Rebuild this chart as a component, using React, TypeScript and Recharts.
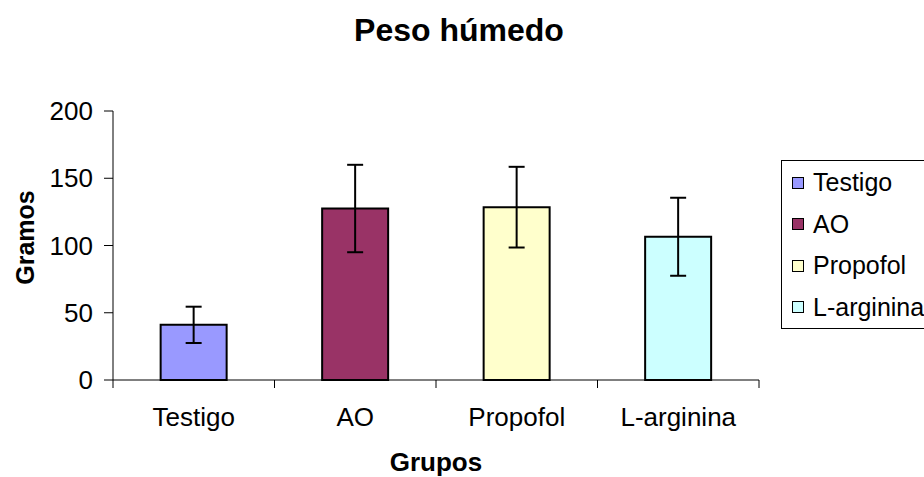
import React from 'react';
import { BarChart, Bar, Cell, XAxis, YAxis, ErrorBar, Legend, Label } from 'recharts';

const categories = ['Testigo', 'AO', 'Propofol', 'L-arginina'];
const pesoValues = [41, 127.5, 128.5, 106.5];
const errorValues = [13.5, 32.5, 30, 29];
const barColors = ['#9999FF', '#993366', '#FFFFCC', '#CCFFFF'];
const yTicks = [0, 50, 100, 150, 200];

const data = categories.map((name, i) => ({ name, peso: pesoValues[i], err: errorValues[i] }));

const FONT = '"Liberation Sans", Arial, sans-serif';
const WIDTH = 924;
const HEIGHT = 477;
const MARGIN = { top: 111, right: 165, bottom: 0, left: 10 };
const Y_AXIS_WIDTH = 103;
const X_AXIS_HEIGHT = 97;
// width of one category band, used to put tick marks between groups (Excel style)
const BAND = (WIDTH - MARGIN.left - Y_AXIS_WIDTH - MARGIN.right) / categories.length;

const GroupTick = (props: any) => {
  const { x, y, payload, index } = props;
  return (
    <g>
      <line x1={x - BAND / 2} y1={y} x2={x - BAND / 2} y2={y + 8} stroke="#000" strokeWidth={1} />
      {index === categories.length - 1 && (
        <line x1={x + BAND / 2} y1={y} x2={x + BAND / 2} y2={y + 8} stroke="#000" strokeWidth={1} />
      )}
      <text x={x} y={y + 46} textAnchor="middle" fontSize={26} fill="#000" fontFamily={FONT}>
        {payload.value}
      </text>
    </g>
  );
};

// y axis title, centred a little above the middle of the plot like the original
const GramosLabel = (props: any) => {
  const { viewBox } = props;
  const cx = viewBox.x + 15;
  const cy = viewBox.y + viewBox.height / 2 - 8;
  return (
    <text
      x={cx}
      y={cy}
      transform={`rotate(-90, ${cx}, ${cy})`}
      textAnchor="middle"
      dominantBaseline="central"
      fontFamily={FONT}
      fontSize={25}
      fontWeight="bold"
      fill="#000"
    >
      Gramos
    </text>
  );
};

const LegendBox = () => (
  <div
    style={{
      boxSizing: 'border-box',
      width: WIDTH - 781,
      border: '1px solid #000',
      borderRight: 'none',
      background: '#fff',
      paddingTop: 1,
      overflow: 'hidden',
      fontFamily: FONT,
      fontSize: 25,
      color: '#000',
    }}
  >
    {categories.map((c, i) => (
      <div key={c} style={{ display: 'flex', alignItems: 'center', height: 41.5, whiteSpace: 'nowrap' }}>
        <span
          style={{
            display: 'inline-block',
            flexShrink: 0,
            boxSizing: 'border-box',
            width: 12,
            height: 12,
            marginLeft: 10,
            marginRight: 9,
            background: barColors[i],
            border: '1px solid #000',
          }}
        />
        <span style={{ flexShrink: 0 }}>{c}</span>
      </div>
    ))}
  </div>
);

export default function App() {
  return (
    <div style={{ position: 'absolute', left: 0, top: 0, width: WIDTH, height: HEIGHT, overflow: 'hidden', background: '#fff' }}>
      <div
        style={{
          position: 'absolute',
          left: 0,
          top: 14,
          width: 918,
          textAlign: 'center',
          fontFamily: FONT,
          fontWeight: 'bold',
          fontSize: 32,
          lineHeight: '32px',
          color: '#000',
          zIndex: 2,
        }}
      >
        Peso húmedo
      </div>
      <BarChart width={WIDTH} height={HEIGHT} data={data} margin={MARGIN} barCategoryGap="29.5%">
        <XAxis
          dataKey="name"
          height={X_AXIS_HEIGHT}
          axisLine={{ stroke: '#000', strokeWidth: 1 }}
          tickLine={false}
          tickSize={0}
          tickMargin={0}
          tick={<GroupTick />}
          interval={0}
          label={{
            value: 'Grupos',
            position: 'insideBottom',
            offset: 6,
            style: { fontFamily: FONT, fontSize: 26, fontWeight: 'bold', fill: '#000' },
          }}
        />
        <YAxis
          width={Y_AXIS_WIDTH}
          domain={[0, 200]}
          ticks={yTicks}
          interval={0}
          axisLine={{ stroke: '#000', strokeWidth: 1 }}
          tickLine={{ stroke: '#000', strokeWidth: 1 }}
          tickSize={9}
          tickMargin={11}
          tick={{ fontSize: 26, fill: '#000', fontFamily: FONT }}
        >
          <Label content={<GramosLabel />} />
        </YAxis>
        <Legend
          layout="horizontal"
          verticalAlign="middle"
          align="center"
          content={<LegendBox />}
          wrapperStyle={{ left: 781, top: 160, width: WIDTH - 781 }}
        />
        <Bar dataKey="peso" stroke="#000" strokeWidth={2} isAnimationActive={false}>
          {data.map((d, i) => (
            <Cell key={d.name} fill={barColors[i]} />
          ))}
          <ErrorBar dataKey="err" direction="y" width={8} stroke="#000" strokeWidth={2} isAnimationActive={false} />
        </Bar>
      </BarChart>
    </div>
  );
}
